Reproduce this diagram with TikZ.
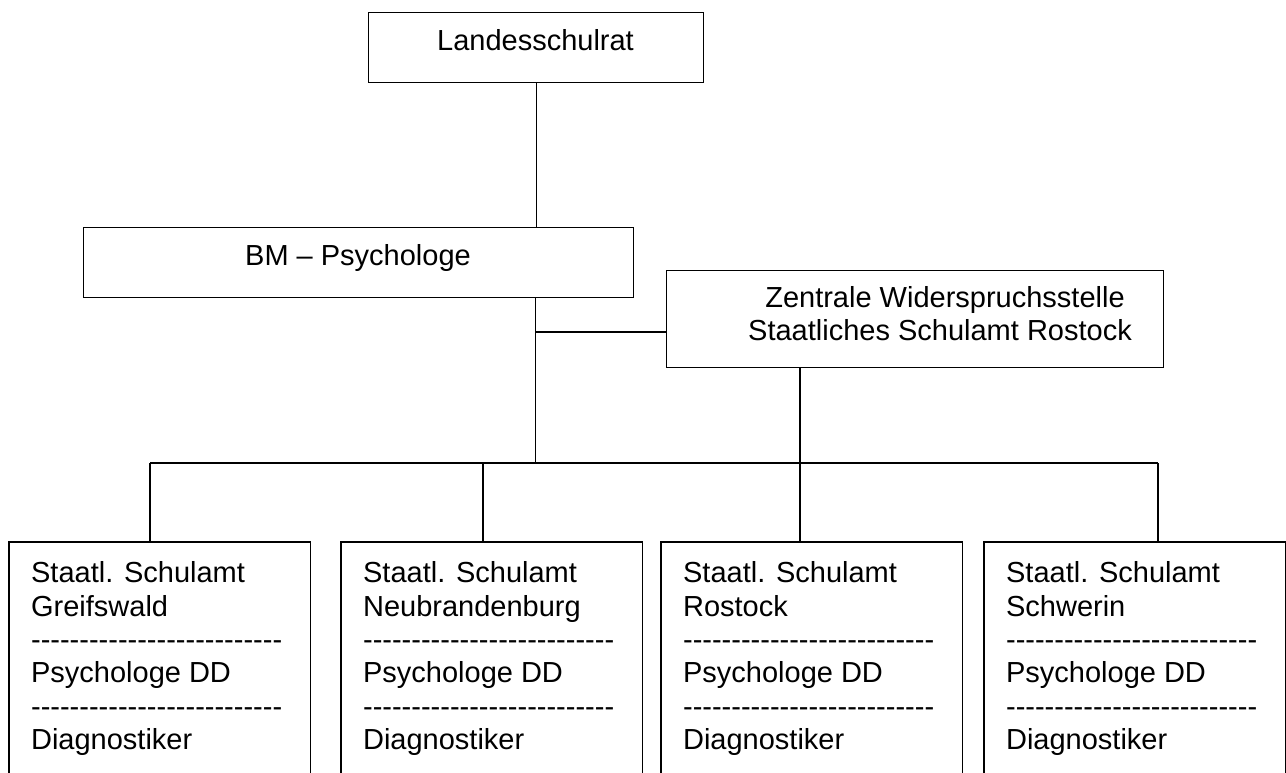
\documentclass[tikz,border=0pt]{standalone}
\usepackage{fontspec}
\setmainfont{Liberation Sans}
\newcommand\hh{-\kern0pt}
\newcommand\hhrow{\hh\hh\hh\hh\hh\hh\hh\hh\hh\hh\hh\hh\hh\hh\hh\hh\hh\hh\hh\hh\hh\hh\hh\hh\hh\hh}
\begin{document}
\begin{tikzpicture}[x=1pt,y=-1pt,line width=1.2pt,
  frame/.style={draw,inner sep=0pt,anchor=north west},
  openbox/.style={inner sep=0pt,anchor=north west,minimum width=300pt,minimum height=250pt},
  lbl/.style={inner sep=0pt,font=\fontsize{29}{33.4}\selectfont},
  boxtext/.style={lbl,align=left,anchor=north west}]
\useasboundingbox (0,0) rectangle (1286,772);
\clip (0,0) rectangle (1286,772);
\fill[white] (0,0) rectangle (1286,772);

% top box
\node[frame,minimum width=335pt,minimum height=70pt] (lsr) at (368,12) {};
\node[lbl,anchor=base] (lsrT) at (535.5,50) {Landesschulrat};

% BM box
\node[frame,minimum width=550pt,minimum height=70pt] (bm) at (83,227) {};
\node[lbl,anchor=base] (bmT) at (358,265) {BM – Psychologe};

% Zentrale box
\node[frame,minimum width=497pt,minimum height=97pt] (zen) at (666,270) {};
\node[lbl,anchor=base] (zenA) at (945,307) {Zentrale Widerspruchsstelle};
\node[lbl,anchor=base] (zenB) at (940,340) {Staatliches Schulamt Rostock};

% bottom boxes (open at the bottom)
\node[openbox] (sa1) at (9,542) {};
\node[openbox] (sa2) at (341,542) {};
\node[openbox] (sa3) at (661,542) {};
\node[openbox] (sa4) at (984,542) {};
\foreach \b in {sa1,sa2,sa3,sa4}
  \draw (\b.south west) -- (\b.north west) -- (\b.north east) -- (\b.south east);

\node[boxtext] (t1) at (30.5,561) {Staatl. Schulamt\\Greifswald\\\hhrow\\Psychologe DD\\\hhrow\\Diagnostiker};
\node[boxtext] (t2) at (362.5,561) {Staatl. Schulamt\\Neubrandenburg\\\hhrow\\Psychologe DD\\\hhrow\\Diagnostiker};
\node[boxtext] (t3) at (682.5,561) {Staatl. Schulamt\\Rostock\\\hhrow\\Psychologe DD\\\hhrow\\Diagnostiker};
\node[boxtext] (t4) at (1005.5,561) {Staatl. Schulamt\\Schwerin\\\hhrow\\Psychologe DD\\\hhrow\\Diagnostiker};

% junctions
\coordinate (jm) at (535.5,332);
\coordinate (jc) at (535.5,463);
\coordinate (b1) at (150,463);
\coordinate (b2) at (483,463);
\coordinate (b3) at (800,463);
\coordinate (b4) at (1158,463);

% connectors
\draw (lsr.south) -- (lsr.south |- bm.north);
\draw (bm.south -| jc) -- (jc);
\draw (jm) -- (jm -| zen.west);
\draw (zen.south -| b3) -- (b3);
\draw (b1) -- (b4);
\draw (b1) -- (b1 |- sa1.north);
\draw (b2) -- (b2 |- sa2.north);
\draw (b3) -- (b3 |- sa3.north);
\draw (b4) -- (b4 |- sa4.north);
\end{tikzpicture}
\end{document}
